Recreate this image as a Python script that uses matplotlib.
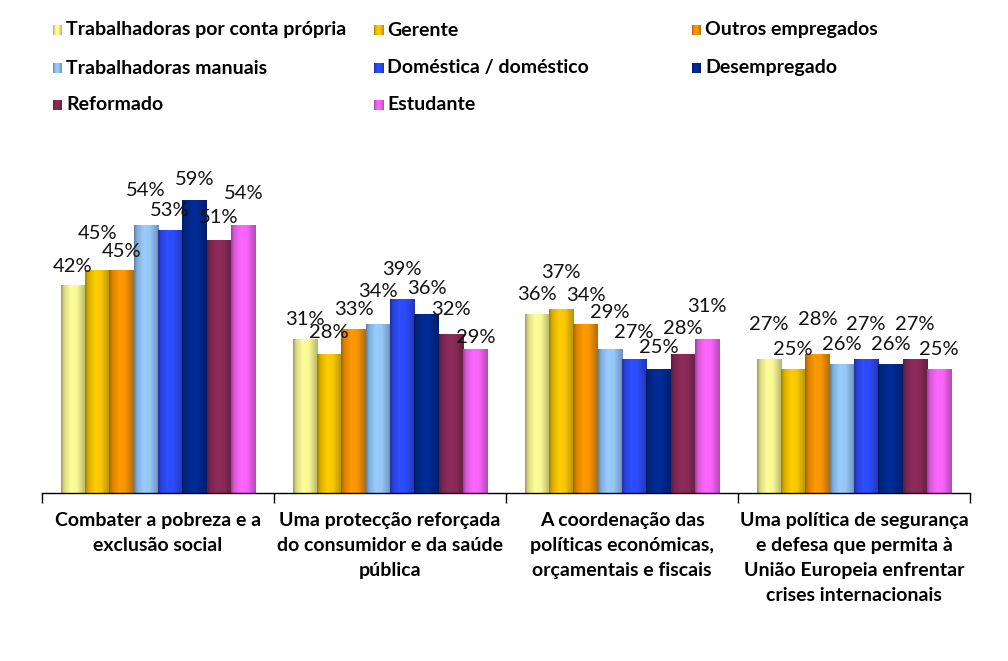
import numpy as np
import matplotlib
matplotlib.use("Agg")
import matplotlib.pyplot as plt
from matplotlib.colors import to_rgb

categories = ["Combater a pobreza e a\nexclusão social",
              "Uma protecção reforçada\ndo consumidor e da saúde\npública",
              "A coordenação das\npolíticas económicas,\norçamentais e fiscais",
              "Uma política de segurança\ne defesa que permita à\nUnião Europeia enfrentar\ncrises internacionais"]

series = ["Trabalhadoras por conta própria", "Gerente", "Outros empregados",
          "Trabalhadoras manuais", "Doméstica / doméstico", "Desempregado",
          "Reformado", "Estudante"]

trab_conta_propria = [42, 31, 36, 27]
gerente = [45, 28, 37, 25]
outros_empregados = [45, 33, 34, 28]
trab_manuais = [54, 34, 29, 26]
domestica = [53, 39, 27, 27]
desempregado = [59, 36, 25, 26]
reformado = [51, 32, 28, 27]
estudante = [54, 29, 31, 25]

values = [trab_conta_propria, gerente, outros_empregados, trab_manuais,
          domestica, desempregado, reformado, estudante]

colors = ["#FFFF99", "#FFCC00", "#FF9900", "#99CCFF",
          "#2E4DFF", "#002C96", "#8E2C5C", "#FF66FF"]

# label lift above bar top (pixels), per series / per group
lifts = [[19, 20, 20, 35],
         [37, 22, 37, 20],
         [19, 20, 29, 35],
         [35, 33, 37, 20],
         [20, 30, 27, 35],
         [21, 26, 22, 20],
         [23, 25, 26, 35],
         [32, 12, 33, 20]]

FONT = "Lato"


def gradient(color, n=64):
    # cylinder-like shading: dark edges, bright middle
    t = np.linspace(0, 1, n)
    f = np.interp(t, [0, 0.12, 0.4, 0.65, 0.9, 1.0], [0.62, 0.85, 1.0, 0.97, 0.78, 0.72])
    c = np.array(to_rgb(color))
    return np.clip(c[None, :] * f[:, None], 0, 1)[None, :, :]


fig = plt.figure(figsize=(10.08, 6.61), dpi=100)
ax = fig.add_axes([42 / 1008, 168 / 661, 928 / 1008, 346.5 / 661])

n = len(series)
width = 0.105
x = np.arange(len(categories))

for i in range(n):
    pos = x - width * n / 2 + width * (i + 0.5)
    bars = ax.bar(pos, values[i], width, color=colors[i], linewidth=0, zorder=1)
    for b, v, lift in zip(bars, values[i], lifts[i]):
        x0 = b.get_x()
        ax.imshow(gradient(colors[i]), extent=[x0, x0 + b.get_width(), 0, b.get_height()],
                  aspect="auto", interpolation="bilinear", zorder=2)
        ax.annotate(f"{v}%", (b.get_x() + b.get_width() / 2, v), xytext=(0, lift),
                    textcoords="offset pixels", ha="center", va="center",
                    fontsize=14.5, family=FONT, color="#111111", zorder=5)

ax.set_xlim(-0.5, len(categories) - 0.5)
ax.set_ylim(0, 70)

for s in ["left", "right", "top"]:
    ax.spines[s].set_visible(False)
ax.spines["bottom"].set_linewidth(1.0)

ax.set_yticks([])
ax.set_xticks(np.arange(-0.5, len(categories), 1.0))
ax.set_xticklabels([])
ax.tick_params(axis="x", which="major", length=7, direction="out", width=1)
ax.set_xticks(x, minor=True)
ax.set_xticklabels(categories, minor=True, fontsize=14, fontweight="bold",
                   family=FONT, linespacing=1.55)
ax.tick_params(axis="x", which="minor", length=0, pad=14)

# legend laid out in rows of three
text_x = [66, 387, 705]
row_y = [30, 68, 105]
for i, (name, col) in enumerate(zip(series, colors)):
    r, c = divmod(i, 3)
    tx = text_x[c]
    my = row_y[r]
    lax = fig.add_axes([(tx - 13) / 1008, 1 - (my + 5) / 661, 9 / 1008, 10 / 661])
    lax.imshow(gradient(col), aspect="auto", interpolation="bilinear")
    lax.set_axis_off()
    fig.text(tx / 1008, 1 - my / 661, name, fontsize=14, fontweight="bold",
             family=FONT, va="center", ha="left")

fig.savefig("out.png", dpi=100)
